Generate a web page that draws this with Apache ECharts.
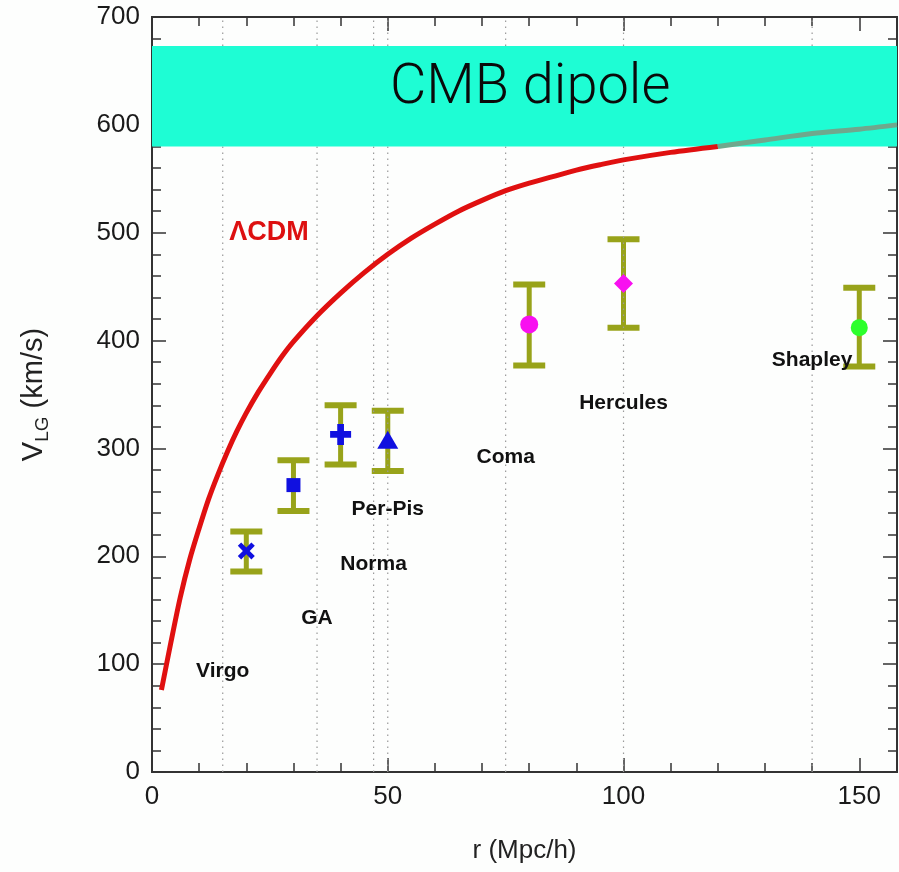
<!DOCTYPE html>
<html><head><meta charset="utf-8">
<script src="https://cdn.jsdelivr.net/npm/echarts@6/dist/echarts.min.js"></script>
<style>html,body{margin:0;padding:0;background:#fff}#c{width:899px;height:872px}</style>
</head><body><div id="c"></div>
<script>
// ---- axis ranges / ticks ----
const xMax = 158;
const yMax = 700;
const xTickStep = 50;
const yTickStep = 100;

// ---- LambdaCDM curve ----
const curveR = [2, 4, 6, 8, 10, 12, 14, 16, 18, 20, 22.5, 25, 27.5, 30, 35, 40, 45, 50, 55, 60, 65, 70, 75, 80, 85, 90, 95, 100, 110, 120];
const curveV = [76, 120, 162, 197, 226, 253, 276, 297, 316, 333, 352, 369, 385, 399, 423, 444, 463, 480, 495, 508, 520, 530, 539, 546, 552, 558, 563, 567.5, 574.5, 580];
// part of the curve seen through the CMB band
const curveInBandR = [120, 130, 140, 150, 158];
const curveInBandV = [580, 586, 592, 596, 600];

// ---- CMB dipole band ----
const dipoleLow = 580;
const dipoleHigh = 673;

// ---- cluster measurements ----
const pointR = [20, 30, 40, 50, 80, 100, 150];
const pointV = [205, 266, 313, 308, 415, 453, 412];
const errLow = [186, 242, 285, 279, 377, 412, 376];
const errHigh = [223, 289, 340, 335, 452, 494, 449];

// ---- cluster names and their distances ----
const clusterNames = ['Virgo', 'GA', 'Norma', 'Per-Pis', 'Coma', 'Hercules', 'Shapley'];
const clusterR = [15, 35, 47, 50, 75, 100, 140];
const clusterLabelV = [93, 143, 193, 244, 292, 342, 382];

// ---- other annotations ----
const noteText = ['ΛCDM', 'CMB dipole'];
const noteR = [24.8, 80.2];
const noteV = [500, 633];

// ---- styles (kept apart from data) ----
const BLUE = '#1010e0', MAG = '#f810f0', GRN = '#2cff2c';
const markerStyle = [
  {symbol: 'path://M2,0 L5,3 L8,0 L10,2 L7,5 L10,8 L8,10 L5,7 L2,10 L0,8 L3,5 L0,2 Z', size: 17, color: BLUE},
  {symbol: 'rect', size: 14, color: BLUE},
  {symbol: 'path://M3.4,0 H6.6 V3.4 H10 V6.6 H6.6 V10 H3.4 V6.6 H0 V3.4 H3.4 Z', size: 21, color: BLUE},
  {symbol: 'triangle', size: [21, 18], color: BLUE},
  {symbol: 'circle', size: 18, color: MAG},
  {symbol: 'diamond', size: [19, 19], color: MAG},
  {symbol: 'circle', size: 17, color: GRN}
];
const ERR = '#98a31a';
const FONT = 'Liberation Sans, Arial, Helvetica, sans-serif';

const chart = echarts.init(document.getElementById('c'), null, {renderer: 'canvas'});

const tickLine = {color: '#333', width: 1.5};
const axLine = {show: true, onZero: false, lineStyle: {color: '#333', width: 2}};

function xAxisDef(pos, step, len, withLabels) {
  const a = {
    type: 'value', position: pos, min: 0, max: xMax, interval: step,
    axisLine: axLine,
    axisTick: {show: true, inside: true, length: len, lineStyle: tickLine},
    axisLabel: {show: false},
    splitLine: {show: false}
  };
  if (withLabels) {
    a.axisLabel = {show: true, fontSize: 26, color: '#1a1a1a', fontFamily: FONT, margin: 12,
      showMaxLabel: false, interval: 0,
      formatter: v => (v % xTickStep === 0 ? String(v) : '')};
    a.name = 'r (Mpc/h)';
    a.nameLocation = 'middle';
    a.nameGap = 66;
    a.nameTextStyle = {fontSize: 26, color: '#222', fontFamily: FONT};
  }
  return a;
}
function yAxisDef(pos, withLabels) {
  const a = {
    type: 'value', position: pos, min: 0, max: yMax, interval: yTickStep,
    axisLine: axLine,
    axisTick: {show: true, inside: true, length: 14, lineStyle: tickLine},
    minorTick: {show: true, splitNumber: 5, length: 9, lineStyle: tickLine},
    axisLabel: {show: false},
    splitLine: {show: false}
  };
  if (withLabels) {
    a.axisLabel = {show: true, fontSize: 26, color: '#1a1a1a', fontFamily: FONT, margin: 12};
    a.name = '{a|V}{b|LG}{a| (km/s)}';
    a.nameLocation = 'middle';
    a.nameRotate = 90;
    a.nameGap = 100;
    a.nameTextStyle = {
      color: '#222', fontFamily: FONT,
      rich: {
        a: {fontSize: 29, fontFamily: FONT, color: '#222', lineHeight: 36, verticalAlign: 'middle'},
        b: {fontSize: 19, fontFamily: FONT, color: '#222', lineHeight: 36, verticalAlign: 'bottom'}
      }
    };
  }
  return a;
}

const option = {
  backgroundColor: '#fdfefd',
  animation: false,
  grid: {left: 152, right: 2, top: 17, bottom: 100, containLabel: false},
  xAxis: [
    xAxisDef('bottom', xTickStep, 14, true),
    xAxisDef('bottom', 10, 9, false),
    xAxisDef('top', xTickStep, 14, false),
    xAxisDef('top', 10, 9, false)
  ],
  yAxis: [yAxisDef('left', true), yAxisDef('right', false)],
  series: [
    // error bars
    {
      type: 'custom', z: 2, silent: true,
      data: pointR.map((r, i) => [r, errLow[i], errHigh[i]]),
      renderItem: (params, api) => {
        const x = api.value(0);
        const pLo = api.coord([x, api.value(1)]);
        const pHi = api.coord([x, api.value(2)]);
        const hw = 16;
        const cap = {stroke: ERR, lineWidth: 6};
        return {type: 'group', children: [
          {type: 'line', shape: {x1: pLo[0], y1: pLo[1], x2: pHi[0], y2: pHi[1]}, style: {stroke: ERR, lineWidth: 5}},
          {type: 'line', shape: {x1: pLo[0] - hw, y1: pLo[1], x2: pLo[0] + hw, y2: pLo[1]}, style: cap},
          {type: 'line', shape: {x1: pHi[0] - hw, y1: pHi[1], x2: pHi[0] + hw, y2: pHi[1]}, style: cap}
        ]};
      }
    },
    // dotted vertical lines at cluster distances
    {
      type: 'custom', z: 3, silent: true,
      data: clusterR.map(r => [r]),
      renderItem: (params, api) => {
        const r = api.value(0);
        const p0 = api.coord([r, 0]);
        const p1 = api.coord([r, yMax]);
        return {type: 'line', shape: {x1: p0[0], y1: p0[1], x2: p1[0], y2: p1[1]},
          style: {stroke: '#9a9a9a', lineWidth: 1.2, lineDash: [1.5, 4.5]}};
      }
    },
    // CMB dipole band
    {
      type: 'custom', z: 4, silent: true,
      data: [[dipoleLow, dipoleHigh]],
      renderItem: (params, api) => {
        const cs = params.coordSys;
        const top = api.coord([0, api.value(1)])[1];
        const bot = api.coord([0, api.value(0)])[1];
        return {type: 'rect', shape: {x: cs.x, y: top, width: cs.width, height: bot - top},
          style: {fill: '#1efdd4'}};
      }
    },
    // LCDM curve
    {
      type: 'line', z: 5, silent: true, symbol: 'none', smooth: 0.3,
      data: curveR.map((r, i) => [r, curveV[i]]),
      lineStyle: {color: '#e01010', width: 5}
    },
    {
      type: 'line', z: 5, silent: true, symbol: 'none', smooth: 0.3,
      data: curveInBandR.map((r, i) => [r, curveInBandV[i]]),
      lineStyle: {color: '#6fa88d', width: 5}
    },
    // markers
    {
      type: 'scatter', z: 6, silent: true,
      data: pointR.map((r, i) => ({
        value: [r, pointV[i]],
        symbol: markerStyle[i].symbol,
        symbolSize: markerStyle[i].size,
        itemStyle: {color: markerStyle[i].color, opacity: 1}
      }))
    },
    // cluster names
    {
      type: 'scatter', z: 7, silent: true, symbolSize: 0,
      itemStyle: {opacity: 1},
      data: clusterNames.map((n, i) => ({name: n, value: [clusterR[i], clusterLabelV[i]]})),
      label: {show: true, position: 'inside', formatter: p => p.name,
        fontSize: 21, fontWeight: 'bold', color: '#111', fontFamily: FONT}
    },
    // annotations
    {
      type: 'scatter', z: 7, silent: true, symbolSize: 0,
      itemStyle: {opacity: 1},
      data: noteText.map((t, i) => ({
        name: t, value: [noteR[i], noteV[i]],
        label: i === 0
          ? {fontSize: 27, fontWeight: 'bold', color: '#dd1010', fontFamily: FONT}
          : {fontSize: 56, fontWeight: 300, color: '#0a0a0a', fontFamily: 'Roboto, Liberation Sans, sans-serif'}
      })),
      label: {show: true, position: 'inside', formatter: p => p.name}
    }
  ]
};
chart.setOption(option);
</script>
</body></html>
